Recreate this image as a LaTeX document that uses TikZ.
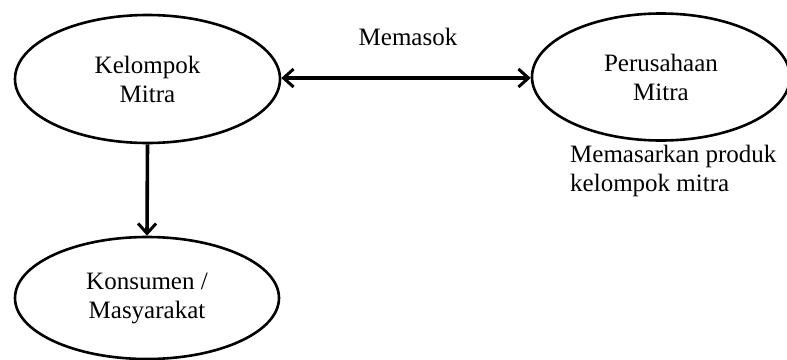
\documentclass[tikz,border=0pt]{standalone}
\usepackage{fontspec}
\setmainfont{Liberation Serif}
\usetikzlibrary{shapes.geometric,arrows.meta}
\begin{document}
\begin{tikzpicture}[x=1pt,y=-1pt,
  oval/.style={draw,ellipse,line width=2.6pt,inner sep=0pt,align=center,
    font=\fontsize{25}{29}\selectfont},
  lbl/.style={font=\fontsize{25}{29}\selectfont,inner sep=0pt},
  tip/.style={},
  conn/.style={line width=3.6pt,{Straight Barb[length=10pt,width=18pt,line width=3pt]}-{Straight Barb[length=10pt,width=18pt,line width=3pt]}},
  conn1/.style={line width=3.6pt,-{Straight Barb[length=10pt,width=18pt,line width=3pt]}}]
\useasboundingbox (0,0) rectangle (787,359);
\node[oval,minimum width=265pt,minimum height=128pt] (km) at (147.5,79) {Kelompok\\Mitra};
\node[oval,minimum width=258pt,minimum height=127pt] (pm) at (661,77) {Perusahaan\\Mitra};
\node[oval,minimum width=264pt,minimum height=122pt] (kons) at (147,298) {Konsumen /\\Masyarakat};
\node[lbl,anchor=base] (memasok) at (408,45) {Memasok};
\node[lbl,anchor=base west,align=left] (pasar) at (570,191) {Memasarkan produk\\kelompok mitra};
\draw[conn] (km.east |- 0,78) -- (pm.west |- 0,78);
\draw[conn1] (km.south) -- (kons.north);
\end{tikzpicture}
\end{document}
